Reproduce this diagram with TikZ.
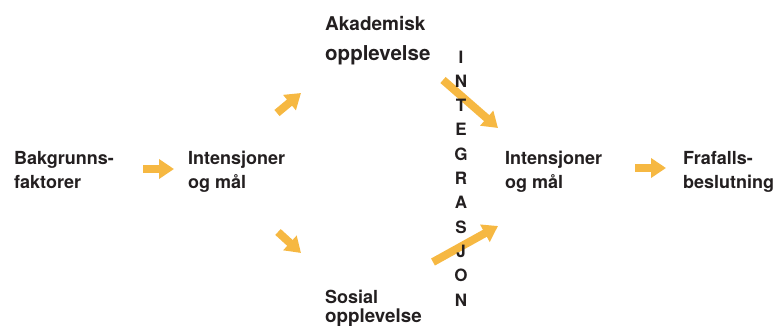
\documentclass[tikz,border=0pt]{standalone}
\usepackage{fontspec}
\setmainfont{TeX Gyre Heros}
\usetikzlibrary{arrows.meta}
\definecolor{arrowgold}{RGB}{246,184,66}
\definecolor{labelink}{RGB}{35,31,32}
\tikzset{
  lbl/.style={anchor=base west, inner sep=0pt, text=labelink, font=\bfseries\fontsize{18}{18}\selectfont},
  letter/.style={anchor=base, inner sep=0pt, text=labelink, font=\bfseries\fontsize{17}{17}\selectfont},
  flow/.style={draw=arrowgold, line width=8pt,
    -{Triangle[length=15pt,width=19pt]}}
}
\begin{document}
\begin{tikzpicture}[x=1pt,y=-1pt]
  \useasboundingbox (0,0) rectangle (780,325);

  % stage labels
  \node[lbl] (bg1) at (14,164) {Bakgrunns-};
  \node[lbl] (bg2) at (14,188) {faktorer};
  \node[lbl] (im1) at (188,164) {Intensjoner};
  \node[lbl] (im2) at (188,188) {og mål};
  \node[lbl, font=\bfseries\fontsize{19}{19}\selectfont] (ak1) at (325,30) {Akademisk};
  \node[lbl, font=\bfseries\fontsize{20.5}{20.5}\selectfont] (ak2) at (325,60) {opplevelse};
  \node[lbl] (so1) at (325,303) {Sosial};
  \node[lbl, font=\bfseries\fontsize{18.8}{18.8}\selectfont] (so2) at (325,322) {opplevelse};
  \node[lbl] (in1) at (505,164) {Intensjoner};
  \node[lbl] (in2) at (505,188) {og mål};
  \node[lbl] (fr1) at (683,164) {Frafalls-};
  \node[lbl] (fr2) at (683,188) {beslutning};

  % arrow end points
  \coordinate (a1s) at (143,169);  \coordinate (a1e) at (174,169);
  \coordinate (a2s) at (635,168);  \coordinate (a2e) at (666,168);
  \coordinate (a3s) at (277,113);  \coordinate (a3e) at (301,93);
  \coordinate (a4s) at (278,232);  \coordinate (a4e) at (301,253);
  \coordinate (a5s) at (443,80);   \coordinate (a5e) at (498,128);
  \coordinate (a6s) at (433,262);  \coordinate (a6e) at (498,226);

  \draw[flow] (a1s) -- (a1e);
  \draw[flow] (a2s) -- (a2e);
  \draw[flow] (a3s) -- (a3e);
  \draw[flow] (a4s) -- (a4e);
  \draw[flow] (a5s) -- (a5e);
  \draw[flow] (a6s) -- (a6e);

  % vertical word, set over the arrows
  \foreach \ch [count=\i from 0] in {I,N,T,E,G,R,A,S,J,O,N}
    \node[letter] (int\i) at (461,{63+\i*24.3}) {\ch};
\end{tikzpicture}
\end{document}
